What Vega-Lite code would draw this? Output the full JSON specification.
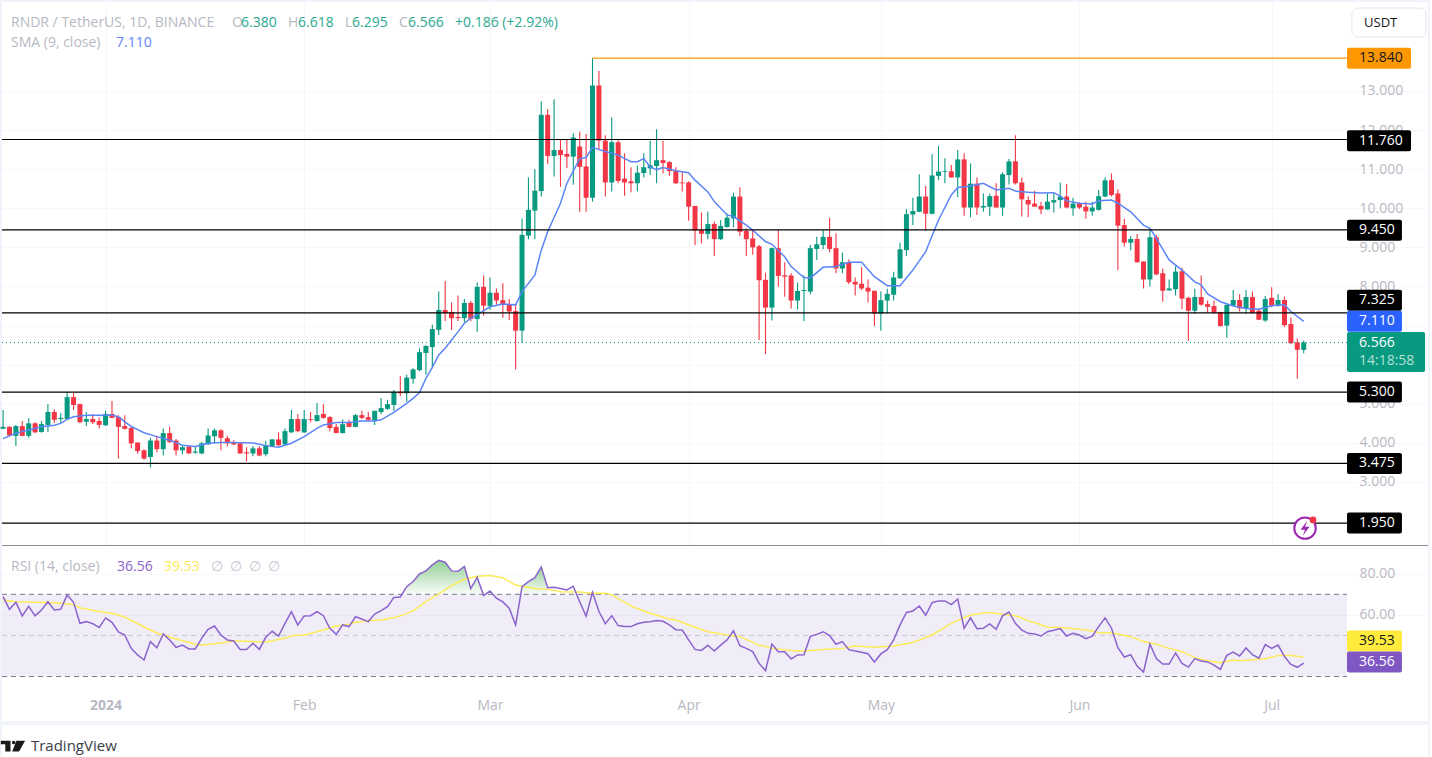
{"$schema":"https://vega.github.io/schema/vega-lite/v6.json","background":"#f0f3fa","padding":{"left":0,"top":2,"right":0,"bottom":0},"bounds":"flush","spacing":0,"config":{"view":{"fill":"white","stroke":null},"text":{"font":"Open Sans"}},
"datasets":{
"candles":[
{"t":"2023-12-16","o":4.36,"h":4.84,"l":4.36,"c":4.41,"r":68.9},{"t":"2023-12-17","o":4.41,"h":4.43,"l":4.16,"c":4.19,"r":62.7},{"t":"2023-12-18","o":4.18,"h":4.46,"l":3.92,"c":4.43,"r":66.1},{"t":"2023-12-19","o":4.43,"h":4.56,"l":4.17,"c":4.18,"r":59.5},{"t":"2023-12-20","o":4.18,"h":4.63,"l":4.13,"c":4.5,"r":64.2},{"t":"2023-12-21","o":4.5,"h":4.53,"l":4.25,"c":4.27,"r":59.5},{"t":"2023-12-22","o":4.28,"h":4.56,"l":4.26,"c":4.48,"r":62.4},{"t":"2023-12-23","o":4.46,"h":4.99,"l":4.28,"c":4.79,"r":66.4},{"t":"2023-12-24","o":4.79,"h":4.86,"l":4.51,"c":4.59,"r":62.4},{"t":"2023-12-25","o":4.61,"h":4.76,"l":4.52,"c":4.64,"r":62.7},{"t":"2023-12-26","o":4.61,"h":5.3,"l":4.59,"c":5.17,"r":69.7},{"t":"2023-12-27","o":5.17,"h":5.28,"l":4.84,"c":4.97,"r":66.1},{"t":"2023-12-28","o":4.99,"h":5.01,"l":4.5,"c":4.53,"r":55.9},{"t":"2023-12-29","o":4.54,"h":4.79,"l":4.43,"c":4.61,"r":56.7},{"t":"2023-12-30","o":4.61,"h":4.74,"l":4.48,"c":4.53,"r":55.7},{"t":"2023-12-31","o":4.56,"h":4.65,"l":4.37,"c":4.46,"r":53.9},
{"t":"2024-01-01","o":4.45,"h":4.82,"l":4.43,"c":4.74,"r":58.5},{"t":"2024-01-02","o":4.74,"h":5.07,"l":4.64,"c":4.64,"r":56.4},{"t":"2024-01-03","o":4.66,"h":4.71,"l":3.6,"c":4.41,"r":51.7},{"t":"2024-01-04","o":4.43,"h":4.71,"l":4.34,"c":4.36,"r":50.2},{"t":"2024-01-05","o":4.38,"h":4.43,"l":3.86,"c":3.99,"r":43.7},{"t":"2024-01-06","o":4.01,"h":4.01,"l":3.72,"c":3.79,"r":40.5},{"t":"2024-01-07","o":3.81,"h":3.84,"l":3.57,"c":3.6,"r":38},{"t":"2024-01-08","o":3.64,"h":4.13,"l":3.37,"c":4.06,"r":47},{"t":"2024-01-09","o":4.06,"h":4.18,"l":3.76,"c":3.84,"r":44},{"t":"2024-01-10","o":3.84,"h":4.37,"l":3.68,"c":4.25,"r":50.7},{"t":"2024-01-11","o":4.25,"h":4.41,"l":4,"c":4.02,"r":47.8},{"t":"2024-01-12","o":4.06,"h":4.1,"l":3.68,"c":3.81,"r":44.2},{"t":"2024-01-13","o":3.81,"h":3.92,"l":3.71,"c":3.89,"r":45.3},{"t":"2024-01-14","o":3.9,"h":3.92,"l":3.72,"c":3.73,"r":43.4},{"t":"2024-01-15","o":3.75,"h":3.92,"l":3.72,"c":3.78,"r":43.4},{"t":"2024-01-16","o":3.73,"h":4.02,"l":3.71,"c":3.99,"r":48.6},{"t":"2024-01-17","o":3.96,"h":4.37,"l":3.95,"c":4.19,"r":53},{"t":"2024-01-18","o":4.17,"h":4.37,"l":3.99,"c":4.32,"r":54.6},{"t":"2024-01-19","o":4.32,"h":4.35,"l":3.81,"c":4.13,"r":50.2},{"t":"2024-01-20","o":4.12,"h":4.18,"l":3.91,"c":3.99,"r":47.8},{"t":"2024-01-21","o":4.01,"h":4.07,"l":3.94,"c":3.96,"r":47.3},{"t":"2024-01-22","o":3.99,"h":3.99,"l":3.72,"c":3.73,"r":43.2},{"t":"2024-01-23","o":3.76,"h":3.89,"l":3.53,"c":3.73,"r":43.1},{"t":"2024-01-24","o":3.73,"h":3.92,"l":3.66,"c":3.86,"r":46.2},{"t":"2024-01-25","o":3.86,"h":3.92,"l":3.66,"c":3.68,"r":43.2},{"t":"2024-01-26","o":3.71,"h":4.05,"l":3.66,"c":3.94,"r":49.1},{"t":"2024-01-27","o":3.91,"h":4.09,"l":3.9,"c":4.09,"r":52},{"t":"2024-01-28","o":4.09,"h":4.27,"l":3.92,"c":3.94,"r":49.7},{"t":"2024-01-29","o":3.96,"h":4.37,"l":3.94,"c":4.3,"r":55.9},{"t":"2024-01-30","o":4.27,"h":4.84,"l":4.25,"c":4.61,"r":61.6},{"t":"2024-01-31","o":4.61,"h":4.74,"l":4.27,"c":4.3,"r":55.1},
{"t":"2024-02-01","o":4.27,"h":4.84,"l":4.25,"c":4.61,"r":59.5},{"t":"2024-02-02","o":4.61,"h":4.79,"l":4.53,"c":4.59,"r":59.6},{"t":"2024-02-03","o":4.56,"h":5.02,"l":4.54,"c":4.71,"r":61.6},{"t":"2024-02-04","o":4.74,"h":4.99,"l":4.62,"c":4.64,"r":59.6},{"t":"2024-02-05","o":4.66,"h":4.69,"l":4.3,"c":4.38,"r":53.5},{"t":"2024-02-06","o":4.41,"h":4.48,"l":4.25,"c":4.25,"r":50.5},{"t":"2024-02-07","o":4.25,"h":4.6,"l":4.24,"c":4.48,"r":55.1},{"t":"2024-02-08","o":4.51,"h":4.59,"l":4.4,"c":4.41,"r":54.3},{"t":"2024-02-09","o":4.41,"h":4.74,"l":4.4,"c":4.71,"r":59.1},{"t":"2024-02-10","o":4.71,"h":4.82,"l":4.61,"c":4.64,"r":58},{"t":"2024-02-11","o":4.66,"h":4.79,"l":4.56,"c":4.59,"r":56.7},{"t":"2024-02-12","o":4.57,"h":4.82,"l":4.46,"c":4.82,"r":60.4},{"t":"2024-02-13","o":4.79,"h":5.15,"l":4.74,"c":4.89,"r":62.1},{"t":"2024-02-14","o":4.87,"h":5.1,"l":4.84,"c":4.99,"r":64},{"t":"2024-02-15","o":4.97,"h":5.35,"l":4.82,"c":5.3,"r":68.5},{"t":"2024-02-16","o":5.3,"h":5.71,"l":5.2,"c":5.27,"r":68.7},{"t":"2024-02-17","o":5.27,"h":5.74,"l":5.05,"c":5.67,"r":73.7},{"t":"2024-02-18","o":5.64,"h":5.91,"l":5.51,"c":5.88,"r":76.2},{"t":"2024-02-19","o":5.86,"h":6.42,"l":5.83,"c":6.32,"r":79.9},{"t":"2024-02-20","o":6.3,"h":6.5,"l":5.74,"c":6.48,"r":81.4},{"t":"2024-02-21","o":6.45,"h":7.02,"l":5.91,"c":6.91,"r":84.3},{"t":"2024-02-22","o":6.89,"h":7.87,"l":6.76,"c":7.4,"r":86.5},{"t":"2024-02-23","o":7.4,"h":8.14,"l":7.12,"c":7.32,"r":85.6},{"t":"2024-02-24","o":7.35,"h":7.59,"l":6.89,"c":7.19,"r":81.4},{"t":"2024-02-25","o":7.22,"h":7.77,"l":7.12,"c":7.19,"r":81.2},{"t":"2024-02-26","o":7.19,"h":7.68,"l":7.09,"c":7.58,"r":83.5},{"t":"2024-02-27","o":7.58,"h":7.63,"l":7.11,"c":7.17,"r":72.8},{"t":"2024-02-28","o":7.17,"h":8.1,"l":6.84,"c":7.99,"r":78.3},{"t":"2024-02-29","o":7.99,"h":8.28,"l":7.25,"c":7.51,"r":69.4},
{"t":"2024-03-01","o":7.5,"h":8.23,"l":7.4,"c":7.84,"r":71.6},{"t":"2024-03-02","o":7.84,"h":7.95,"l":7.53,"c":7.64,"r":68.1},{"t":"2024-03-03","o":7.65,"h":8.08,"l":7.2,"c":7.53,"r":66.3},{"t":"2024-03-04","o":7.55,"h":7.68,"l":7.14,"c":7.36,"r":63.2},{"t":"2024-03-05","o":7.37,"h":7.53,"l":5.88,"c":6.87,"r":55.1},{"t":"2024-03-06","o":6.87,"h":9.74,"l":6.57,"c":9.32,"r":73.7},{"t":"2024-03-07","o":9.3,"h":10.79,"l":9.21,"c":9.96,"r":76.2},{"t":"2024-03-08","o":9.94,"h":11,"l":9.21,"c":10.45,"r":78.1},{"t":"2024-03-09","o":10.44,"h":12.73,"l":10.3,"c":12.39,"r":83.3},{"t":"2024-03-10","o":12.39,"h":12.53,"l":11.13,"c":11.34,"r":73.2},{"t":"2024-03-11","o":11.34,"h":12.79,"l":10.81,"c":11.49,"r":73.4},{"t":"2024-03-12","o":11.49,"h":11.75,"l":10.55,"c":11.36,"r":72.8},{"t":"2024-03-13","o":11.39,"h":11.76,"l":11.03,"c":11.32,"r":72.1},{"t":"2024-03-14","o":11.32,"h":11.92,"l":10.6,"c":11.81,"r":73.9},{"t":"2024-03-15","o":11.58,"h":11.96,"l":9.91,"c":11.06,"r":66.4},{"t":"2024-03-16","o":11.07,"h":11.9,"l":9.91,"c":10.27,"r":59.3},{"t":"2024-03-17","o":10.27,"h":13.84,"l":10.17,"c":13.14,"r":71},{"t":"2024-03-18","o":13.14,"h":13.51,"l":11.5,"c":11.73,"r":61.6},{"t":"2024-03-19","o":11.73,"h":11.87,"l":10.3,"c":10.66,"r":55.7},{"t":"2024-03-20","o":10.66,"h":12.32,"l":10.43,"c":11.69,"r":59.6},{"t":"2024-03-21","o":11.69,"h":11.75,"l":10.64,"c":10.7,"r":54.8},{"t":"2024-03-22","o":10.76,"h":11.41,"l":10.32,"c":10.66,"r":54.4},{"t":"2024-03-23","o":10.69,"h":11.05,"l":10.41,"c":10.64,"r":54.3},{"t":"2024-03-24","o":10.64,"h":11.09,"l":10.43,"c":10.91,"r":55.7},{"t":"2024-03-25","o":10.9,"h":11.41,"l":10.79,"c":11.05,"r":56.4},{"t":"2024-03-26","o":11.02,"h":11.73,"l":10.85,"c":11.1,"r":56.7},{"t":"2024-03-27","o":11.08,"h":12.02,"l":10.64,"c":11.23,"r":57.2},{"t":"2024-03-28","o":11.23,"h":11.73,"l":10.89,"c":11.16,"r":56.9},{"t":"2024-03-29","o":11.18,"h":11.21,"l":10.83,"c":10.95,"r":55.1},{"t":"2024-03-30","o":10.95,"h":11.05,"l":10.62,"c":10.64,"r":52.8},{"t":"2024-03-31","o":10.66,"h":10.92,"l":10.43,"c":10.64,"r":52.6},
{"t":"2024-04-01","o":10.66,"h":10.69,"l":9.68,"c":10.04,"r":47.8},{"t":"2024-04-02","o":10.06,"h":10.06,"l":9.06,"c":9.43,"r":43.2},{"t":"2024-04-03","o":9.44,"h":9.89,"l":9.1,"c":9.35,"r":42.7},{"t":"2024-04-04","o":9.34,"h":9.91,"l":9.21,"c":9.6,"r":45.2},{"t":"2024-04-05","o":9.6,"h":9.66,"l":8.78,"c":9.21,"r":42.4},{"t":"2024-04-06","o":9.21,"h":9.7,"l":9.19,"c":9.55,"r":45.3},{"t":"2024-04-07","o":9.52,"h":9.87,"l":9.51,"c":9.76,"r":47.8},{"t":"2024-04-08","o":9.74,"h":10.4,"l":9.51,"c":10.3,"r":52.3},{"t":"2024-04-09","o":10.3,"h":10.54,"l":9.29,"c":9.4,"r":45},{"t":"2024-04-10","o":9.42,"h":9.49,"l":8.78,"c":9.21,"r":43.7},{"t":"2024-04-11","o":9.23,"h":9.44,"l":8.81,"c":9,"r":42.1},{"t":"2024-04-12","o":9.03,"h":9.06,"l":6.63,"c":8.16,"r":36.4},{"t":"2024-04-13","o":8.17,"h":8.35,"l":6.27,"c":7.46,"r":32.9},{"t":"2024-04-14","o":7.46,"h":8.99,"l":7.13,"c":8.98,"r":45.8},{"t":"2024-04-15","o":8.98,"h":9.46,"l":8,"c":8.27,"r":42.1},{"t":"2024-04-16","o":8.285,"h":8.62,"l":7.74,"c":8.25,"r":42.1},{"t":"2024-04-17","o":8.28,"h":8.34,"l":7.44,"c":7.64,"r":38.5},{"t":"2024-04-18","o":7.64,"h":8.1,"l":7.42,"c":7.885,"r":40.5},{"t":"2024-04-19","o":7.885,"h":8.29,"l":7.12,"c":7.91,"r":40.6},{"t":"2024-04-20","o":7.87,"h":9.06,"l":7.8,"c":8.98,"r":49.6},{"t":"2024-04-21","o":8.96,"h":9.27,"l":8.68,"c":9.08,"r":50.5},{"t":"2024-04-22","o":9.06,"h":9.44,"l":8.95,"c":9.27,"r":51.8},{"t":"2024-04-23","o":9.27,"h":9.76,"l":8.87,"c":8.96,"r":49.9},{"t":"2024-04-24","o":8.98,"h":9.36,"l":8.34,"c":8.46,"r":45.7},{"t":"2024-04-25","o":8.46,"h":8.87,"l":8.34,"c":8.62,"r":47},{"t":"2024-04-26","o":8.62,"h":8.69,"l":8.06,"c":8.11,"r":43.1},{"t":"2024-04-27","o":8.12,"h":8.23,"l":7.77,"c":8.05,"r":42.4},{"t":"2024-04-28","o":8.07,"h":8.49,"l":7.91,"c":7.95,"r":41.8},{"t":"2024-04-29","o":7.97,"h":8.18,"l":7.59,"c":7.87,"r":41.1},{"t":"2024-04-30","o":7.89,"h":7.89,"l":6.99,"c":7.31,"r":37.1},
{"t":"2024-05-01","o":7.31,"h":7.87,"l":6.87,"c":7.65,"r":41},{"t":"2024-05-02","o":7.64,"h":7.94,"l":7.31,"c":7.81,"r":43.1},{"t":"2024-05-03","o":7.79,"h":8.38,"l":7.64,"c":8.23,"r":47.8},{"t":"2024-05-04","o":8.21,"h":9.12,"l":8.2,"c":8.95,"r":55.1},{"t":"2024-05-05","o":8.93,"h":9.98,"l":8.78,"c":9.85,"r":61.2},{"t":"2024-05-06","o":9.84,"h":10.27,"l":9.57,"c":9.93,"r":61.9},{"t":"2024-05-07","o":9.91,"h":10.87,"l":9.9,"c":10.3,"r":64.3},{"t":"2024-05-08","o":10.3,"h":10.57,"l":9.43,"c":9.86,"r":59.8},{"t":"2024-05-09","o":9.86,"h":11.38,"l":9.85,"c":10.84,"r":65.9},{"t":"2024-05-10","o":10.83,"h":11.59,"l":10.72,"c":10.94,"r":66.8},{"t":"2024-05-11","o":10.93,"h":11.28,"l":10.64,"c":10.95,"r":66.8},{"t":"2024-05-12","o":10.945,"h":11.11,"l":10.78,"c":10.79,"r":65},{"t":"2024-05-13","o":10.79,"h":11.49,"l":10.28,"c":11.25,"r":67.7},{"t":"2024-05-14","o":11.25,"h":11.41,"l":9.81,"c":10.02,"r":53.5},{"t":"2024-05-15","o":10.02,"h":11.15,"l":9.77,"c":10.63,"r":58.6},{"t":"2024-05-16","o":10.63,"h":10.79,"l":9.83,"c":10.02,"r":53.3},{"t":"2024-05-17","o":10.02,"h":10.38,"l":9.91,"c":10.06,"r":53.5},{"t":"2024-05-18","o":10.04,"h":10.37,"l":9.81,"c":10.31,"r":55.6},{"t":"2024-05-19","o":10.32,"h":10.64,"l":10.02,"c":10.02,"r":53},{"t":"2024-05-20","o":10.02,"h":10.92,"l":9.81,"c":10.87,"r":59.5},{"t":"2024-05-21","o":10.85,"h":11.26,"l":10.61,"c":11.2,"r":61.4},{"t":"2024-05-22","o":11.2,"h":11.87,"l":10.61,"c":10.64,"r":55.9},{"t":"2024-05-23","o":10.66,"h":10.79,"l":9.79,"c":10.23,"r":52.6},{"t":"2024-05-24","o":10.21,"h":10.31,"l":9.77,"c":10.1,"r":51},{"t":"2024-05-25","o":10.12,"h":10.45,"l":10.04,"c":10.04,"r":50.7},{"t":"2024-05-26","o":10.06,"h":10.17,"l":9.85,"c":9.97,"r":49.7},{"t":"2024-05-27","o":9.97,"h":10.38,"l":9.96,"c":10.17,"r":51.8},{"t":"2024-05-28","o":10.15,"h":10.37,"l":9.89,"c":10.21,"r":52.5},{"t":"2024-05-29","o":10.21,"h":10.66,"l":10,"c":10.3,"r":53.3},{"t":"2024-05-30","o":10.3,"h":10.62,"l":10,"c":10.02,"r":49.7},{"t":"2024-05-31","o":10,"h":10.27,"l":9.81,"c":10.12,"r":51},
{"t":"2024-06-01","o":10.12,"h":10.15,"l":9.98,"c":10.02,"r":50.2},{"t":"2024-06-02","o":10.04,"h":10.17,"l":9.73,"c":9.92,"r":48.4},{"t":"2024-06-03","o":9.92,"h":10.17,"l":9.81,"c":10.02,"r":49.6},{"t":"2024-06-04","o":9.96,"h":10.47,"l":9.94,"c":10.31,"r":54.3},{"t":"2024-06-05","o":10.3,"h":10.79,"l":10.28,"c":10.715,"r":58.6},{"t":"2024-06-06","o":10.72,"h":10.89,"l":10.3,"c":10.34,"r":53.5},{"t":"2024-06-07","o":10.38,"h":10.485,"l":8.42,"c":9.556,"r":44},{"t":"2024-06-08","o":9.57,"h":9.73,"l":9.02,"c":9.12,"r":39.5},{"t":"2024-06-09","o":9.12,"h":9.29,"l":8.93,"c":9.215,"r":40.6},{"t":"2024-06-10","o":9.215,"h":9.34,"l":8.61,"c":8.62,"r":35.1},{"t":"2024-06-11","o":8.64,"h":8.64,"l":7.95,"c":8.18,"r":32.2},{"t":"2024-06-12","o":8.18,"h":9.49,"l":8,"c":9.26,"r":45.8},{"t":"2024-06-13","o":9.26,"h":9.32,"l":8.29,"c":8.31,"r":38.7},{"t":"2024-06-14","o":8.34,"h":8.46,"l":7.61,"c":7.89,"r":36.1},{"t":"2024-06-15","o":7.9,"h":8.18,"l":7.89,"c":7.95,"r":36.1},{"t":"2024-06-16","o":7.93,"h":8.52,"l":7.77,"c":8.38,"r":41.5},{"t":"2024-06-17","o":8.39,"h":8.48,"l":7.42,"c":7.69,"r":36.4},{"t":"2024-06-18","o":7.71,"h":7.74,"l":6.61,"c":7.38,"r":34.6},{"t":"2024-06-19","o":7.38,"h":7.94,"l":7.3,"c":7.73,"r":38.7},{"t":"2024-06-20","o":7.73,"h":8.28,"l":7.51,"c":7.535,"r":37.6},{"t":"2024-06-21","o":7.55,"h":7.64,"l":7.33,"c":7.48,"r":37.1},{"t":"2024-06-22","o":7.5,"h":7.64,"l":7.31,"c":7.33,"r":35.6},{"t":"2024-06-23","o":7.35,"h":7.35,"l":6.97,"c":6.99,"r":33.5},{"t":"2024-06-24","o":7,"h":7.57,"l":6.69,"c":7.53,"r":40.3},{"t":"2024-06-25","o":7.51,"h":7.91,"l":7.5,"c":7.655,"r":41.9},{"t":"2024-06-26","o":7.655,"h":7.8,"l":7.36,"c":7.44,"r":40},{"t":"2024-06-27","o":7.44,"h":7.91,"l":7.3,"c":7.73,"r":43.9},{"t":"2024-06-28","o":7.73,"h":7.87,"l":7.31,"c":7.33,"r":40.6},{"t":"2024-06-29","o":7.38,"h":7.44,"l":7.14,"c":7.15,"r":38.9},{"t":"2024-06-30","o":7.13,"h":7.76,"l":7.1,"c":7.68,"r":45.5},
{"t":"2024-07-01","o":7.71,"h":7.98,"l":7.47,"c":7.51,"r":43.7},{"t":"2024-07-02","o":7.51,"h":7.8,"l":7.48,"c":7.655,"r":45.3},{"t":"2024-07-03","o":7.655,"h":7.74,"l":6.97,"c":7.01,"r":39.7},{"t":"2024-07-04","o":7.04,"h":7.21,"l":6.53,"c":6.55,"r":35.9},{"t":"2024-07-05","o":6.57,"h":6.67,"l":5.65,"c":6.38,"r":34.5},{"t":"2024-07-06","o":6.38,"h":6.618,"l":6.295,"c":6.566,"r":36.56}],
"sma":[{"t":"2023-12-16","v":4.11},{"t":"2023-12-18","v":4.25},{"t":"2023-12-20","v":4.33},{"t":"2023-12-22","v":4.41},{"t":"2023-12-24","v":4.45},{"t":"2023-12-25","v":4.5},{"t":"2023-12-26","v":4.6},{"t":"2023-12-27","v":4.67},{"t":"2023-12-29","v":4.71},{"t":"2023-12-31","v":4.71},{"t":"2024-01-02","v":4.71},{"t":"2024-01-03","v":4.67},{"t":"2024-01-04","v":4.54},{"t":"2024-01-05","v":4.42},{"t":"2024-01-07","v":4.26},{"t":"2024-01-09","v":4.16},{"t":"2024-01-11","v":4.07},{"t":"2024-01-13","v":3.94},{"t":"2024-01-15","v":3.91},{"t":"2024-01-17","v":3.99},{"t":"2024-01-19","v":4.01},{"t":"2024-01-21","v":4.01},{"t":"2024-01-24","v":4},{"t":"2024-01-26","v":3.93},{"t":"2024-01-28","v":3.89},{"t":"2024-01-30","v":3.99},{"t":"2024-02-01","v":4.16},{"t":"2024-02-03","v":4.37},{"t":"2024-02-04","v":4.46},{"t":"2024-02-06","v":4.52},{"t":"2024-02-08","v":4.52},{"t":"2024-02-10","v":4.56},{"t":"2024-02-12","v":4.56},{"t":"2024-02-13","v":4.59},{"t":"2024-02-15","v":4.78},{"t":"2024-02-17","v":5.01},{"t":"2024-02-18","v":5.14},{"t":"2024-02-19","v":5.29},{"t":"2024-02-20","v":5.65},{"t":"2024-02-21","v":5.93},{"t":"2024-02-22","v":6.25},{"t":"2024-02-23","v":6.42},{"t":"2024-02-24","v":6.63},{"t":"2024-02-25","v":6.84},{"t":"2024-02-26","v":7.06},{"t":"2024-02-27","v":7.19},{"t":"2024-02-28","v":7.28},{"t":"2024-03-01","v":7.48},{"t":"2024-03-03","v":7.55},{"t":"2024-03-05","v":7.53},{"t":"2024-03-06","v":7.87},{"t":"2024-03-08","v":8.29},{"t":"2024-03-09","v":8.93},{"t":"2024-03-10","v":9.4},{"t":"2024-03-12","v":10.13},{"t":"2024-03-13","v":10.64},{"t":"2024-03-15","v":11.27},{"t":"2024-03-16","v":11.3},{"t":"2024-03-17","v":11.56},{"t":"2024-03-19","v":11.45},{"t":"2024-03-21","v":11.36},{"t":"2024-03-23","v":11.19},{"t":"2024-03-24","v":11.19},{"t":"2024-03-25","v":11.27},{"t":"2024-03-26","v":11.06},{"t":"2024-03-27","v":10.99},{"t":"2024-03-28","v":11.04},{"t":"2024-03-30","v":10.96},{"t":"2024-04-01","v":10.91},{"t":"2024-04-02","v":10.72},{"t":"2024-04-04","v":10.42},{"t":"2024-04-05","v":10.17},{"t":"2024-04-07","v":9.83},{"t":"2024-04-08","v":9.79},{"t":"2024-04-10","v":9.57},{"t":"2024-04-11","v":9.44},{"t":"2024-04-13","v":9.15},{"t":"2024-04-14","v":9.08},{"t":"2024-04-16","v":8.76},{"t":"2024-04-17","v":8.51},{"t":"2024-04-19","v":8.23},{"t":"2024-04-20","v":8.22},{"t":"2024-04-22","v":8.49},{"t":"2024-04-24","v":8.51},{"t":"2024-04-26","v":8.62},{"t":"2024-04-28","v":8.62},{"t":"2024-04-30","v":8.25},{"t":"2024-05-02","v":8.02},{"t":"2024-05-04","v":8.02},{"t":"2024-05-06","v":8.42},{"t":"2024-05-08","v":8.89},{"t":"2024-05-10","v":9.7},{"t":"2024-05-12","v":10.34},{"t":"2024-05-13","v":10.53},{"t":"2024-05-15","v":10.57},{"t":"2024-05-17","v":10.64},{"t":"2024-05-19","v":10.47},{"t":"2024-05-21","v":10.51},{"t":"2024-05-22","v":10.44},{"t":"2024-05-24","v":10.41},{"t":"2024-05-26","v":10.39},{"t":"2024-05-28","v":10.4},{"t":"2024-05-29","v":10.31},{"t":"2024-05-30","v":10.19},{"t":"2024-06-01","v":10.13},{"t":"2024-06-03","v":10.11},{"t":"2024-06-04","v":10.19},{"t":"2024-06-06","v":10.21},{"t":"2024-06-07","v":10.13},{"t":"2024-06-09","v":9.91},{"t":"2024-06-11","v":9.57},{"t":"2024-06-12","v":9.49},{"t":"2024-06-13","v":9.23},{"t":"2024-06-15","v":8.68},{"t":"2024-06-17","v":8.42},{"t":"2024-06-19","v":8.12},{"t":"2024-06-20","v":8.04},{"t":"2024-06-21","v":7.81},{"t":"2024-06-23","v":7.61},{"t":"2024-06-25","v":7.5},{"t":"2024-06-27","v":7.44},{"t":"2024-06-29","v":7.42},{"t":"2024-07-01","v":7.51},{"t":"2024-07-03","v":7.53},{"t":"2024-07-04","v":7.36},{"t":"2024-07-06","v":7.11}],
"rsima":[{"t":"2023-12-16","v":67.2},{"t":"2023-12-18","v":66.4},{"t":"2023-12-21","v":66.1},{"t":"2023-12-24","v":65.9},{"t":"2023-12-27","v":65.1},{"t":"2023-12-28","v":63.5},{"t":"2023-12-31","v":61.6},{"t":"2024-01-02","v":60.8},{"t":"2024-01-04","v":59},{"t":"2024-01-07","v":54.1},{"t":"2024-01-09","v":51.2},{"t":"2024-01-12","v":48.3},{"t":"2024-01-15","v":45.7},{"t":"2024-01-16","v":45.3},{"t":"2024-01-19","v":46.3},{"t":"2024-01-21","v":47.3},{"t":"2024-01-24","v":47},{"t":"2024-01-26","v":46.8},{"t":"2024-01-29","v":48.6},{"t":"2024-01-30","v":49.9},{"t":"2024-02-01","v":50.2},{"t":"2024-02-04","v":52.6},{"t":"2024-02-06","v":54.6},{"t":"2024-02-08","v":55.4},{"t":"2024-02-09","v":56.4},{"t":"2024-02-11","v":57.2},{"t":"2024-02-13","v":57.5},{"t":"2024-02-15","v":58.6},{"t":"2024-02-17","v":60.6},{"t":"2024-02-18","v":61.9},{"t":"2024-02-20","v":66.4},{"t":"2024-02-22","v":70.2},{"t":"2024-02-24","v":74.2},{"t":"2024-02-26","v":77.3},{"t":"2024-02-28","v":78.8},{"t":"2024-03-01","v":79.1},{"t":"2024-03-03","v":78.1},{"t":"2024-03-05","v":74.5},{"t":"2024-03-06","v":73.9},{"t":"2024-03-08","v":72.8},{"t":"2024-03-10","v":72.4},{"t":"2024-03-12","v":71.3},{"t":"2024-03-15","v":71.1},{"t":"2024-03-17","v":70.5},{"t":"2024-03-19","v":70.5},{"t":"2024-03-20","v":69.7},{"t":"2024-03-23","v":64.3},{"t":"2024-03-26","v":60.8},{"t":"2024-03-29","v":58},{"t":"2024-03-30","v":57.5},{"t":"2024-04-01","v":55.1},{"t":"2024-04-04","v":51.8},{"t":"2024-04-07","v":50.2},{"t":"2024-04-09","v":49.4},{"t":"2024-04-12","v":45.3},{"t":"2024-04-14","v":43.7},{"t":"2024-04-17","v":42.7},{"t":"2024-04-19","v":42.4},{"t":"2024-04-22","v":43.1},{"t":"2024-04-25","v":43.7},{"t":"2024-04-27","v":44.9},{"t":"2024-04-30","v":44.2},{"t":"2024-05-03","v":44.9},{"t":"2024-05-06","v":46.6},{"t":"2024-05-09","v":50.2},{"t":"2024-05-12","v":55.9},{"t":"2024-05-14","v":58.6},{"t":"2024-05-15","v":59.9},{"t":"2024-05-17","v":60.9},{"t":"2024-05-18","v":61.1},{"t":"2024-05-20","v":60.3},{"t":"2024-05-22","v":59.6},{"t":"2024-05-24","v":57.2},{"t":"2024-05-27","v":54.1},{"t":"2024-05-29","v":53.9},{"t":"2024-06-01","v":53},{"t":"2024-06-03","v":52.2},{"t":"2024-06-04","v":51.3},{"t":"2024-06-06","v":51.3},{"t":"2024-06-09","v":49.4},{"t":"2024-06-11","v":47},{"t":"2024-06-13","v":45.7},{"t":"2024-06-15","v":43.7},{"t":"2024-06-17","v":42.1},{"t":"2024-06-19","v":39.2},{"t":"2024-06-21","v":37.7},{"t":"2024-06-23","v":36.7},{"t":"2024-06-25","v":38},{"t":"2024-06-26","v":37.7},{"t":"2024-06-28","v":38.2},{"t":"2024-06-30","v":38.7},{"t":"2024-07-02","v":40.2},{"t":"2024-07-04","v":40.2},{"t":"2024-07-06","v":39.53}],
"ob":[{"t":"2024-02-16","r":70,"seg":"a"},{"t":"2024-02-17","r":73.7,"seg":"a"},{"t":"2024-02-18","r":76.2,"seg":"a"},{"t":"2024-02-19","r":79.9,"seg":"a"},{"t":"2024-02-20","r":81.4,"seg":"a"},{"t":"2024-02-21","r":84.3,"seg":"a"},{"t":"2024-02-22","r":86.5,"seg":"a"},{"t":"2024-02-23","r":85.6,"seg":"a"},{"t":"2024-02-24","r":81.4,"seg":"a"},{"t":"2024-02-25","r":81.2,"seg":"a"},{"t":"2024-02-26","r":83.5,"seg":"a"},{"t":"2024-02-27","r":72.8,"seg":"a"},{"t":"2024-02-28","r":78.3,"seg":"a"},{"t":"2024-02-29","r":70,"seg":"a"},{"t":"2024-03-06","r":73.7,"seg":"b"},{"t":"2024-03-07","r":76.2,"seg":"b"},{"t":"2024-03-08","r":78.1,"seg":"b"},{"t":"2024-03-09","r":83.3,"seg":"b"},{"t":"2024-03-10","r":73.2,"seg":"b"}],
"levels":[{"level":11.76,"at":11.73,"label":"11.760"},{"level":9.45,"at":9.44,"label":"9.450"},{"level":7.325,"at":7.65,"label":"7.325"},{"level":5.3,"at":5.3,"label":"5.300"},{"level":3.475,"at":3.475,"label":"3.475"},{"level":1.95,"at":1.95,"label":"1.950"}]
},
"vconcat":[
{"width":1426,"height":544,"layer":[
{"data":{"name":"candles"},"mark":{"type":"rule","strokeWidth":1.1},"encoding":{"x":{"field":"t","type":"temporal","scale":{"padding":0,"domain":[{"year":2023,"month":12,"date":15,"hours":20,"utc":true},{"year":2024,"month":7,"date":25,"hours":9,"minutes":36,"utc":true}]},"axis":{"values":[{"year":2024,"month":1,"date":1,"utc":true},{"year":2024,"month":2,"date":1,"utc":true},{"year":2024,"month":3,"date":1,"utc":true},{"year":2024,"month":4,"date":1,"utc":true},{"year":2024,"month":5,"date":1,"utc":true},{"year":2024,"month":6,"date":1,"utc":true},{"year":2024,"month":7,"date":1,"utc":true}],"labels":false,"ticks":false,"domain":false,"title":null,"gridColor":"#f6f7fa"}},"y":{"field":"l","type":"quantitative","scale":{"padding":0,"domain":[1.363,15.276],"zero":false,"nice":false},"axis":{"orient":"right","offset":-86,"values":[3,4,5,6,7,8,9,10,11,12,13],"format":".3f","labelAlign":"left","labelPadding":17,"ticks":false,"domain":false,"title":null,"gridColor":"#f6f7fa","labelColor":"#b6b9c2","labelFont":"Open Sans","labelFontSize":14}},"y2":{"field":"h"},"color":{"condition":{"test":"datum.c>=datum.o","value":"#089981"},"value":"#f23645"}}},
{"data":{"name":"candles"},"mark":{"type":"bar","size":5},"encoding":{"x":{"field":"t","type":"temporal"},"y":{"field":"o","type":"quantitative"},"y2":{"field":"c"},"color":{"condition":{"test":"datum.c>=datum.o","value":"#089981"},"value":"#f23645"}}},
{"data":{"name":"sma"},"mark":{"type":"line","color":"#5b85f7","strokeWidth":1.5},"encoding":{"x":{"field":"t","type":"temporal"},"y":{"field":"v","type":"quantitative"}}},
{"data":{"name":"levels"},"mark":{"type":"rule","color":"#000000","strokeWidth":1.2},"encoding":{"x":{"datum":{"year":2023,"month":12,"date":15,"hours":20,"utc":true},"type":"temporal"},"x2":{"datum":{"year":2024,"month":7,"date":12,"hours":18,"minutes":14,"utc":true}},"y":{"field":"level","type":"quantitative"}}},
{"data":{"values":[{"level":13.84}]},"mark":{"type":"rule","color":"#ff9800","strokeWidth":1.2},"encoding":{"x":{"datum":{"year":2024,"month":3,"date":17,"utc":true},"type":"temporal"},"x2":{"datum":{"year":2024,"month":7,"date":12,"hours":18,"minutes":14,"utc":true}},"y":{"field":"level","type":"quantitative"}}},
{"data":{"values":[{"level":6.566}]},"mark":{"type":"rule","color":"#089981","strokeWidth":1,"strokeDash":[1,3]},"encoding":{"x":{"datum":{"year":2023,"month":12,"date":15,"hours":20,"utc":true},"type":"temporal"},"x2":{"datum":{"year":2024,"month":7,"date":12,"hours":18,"minutes":14,"utc":true}},"y":{"field":"level","type":"quantitative"}}},
{"data":{"name":"levels"},"transform":[{"filter":"length(datum.label)==6"}],"mark":{"type":"bar","orient":"horizontal","size":21,"color":"#000000","cornerRadius":2},"encoding":{"x":{"datum":{"year":2024,"month":7,"date":12,"hours":18,"minutes":14,"utc":true},"type":"temporal"},"x2":{"datum":{"year":2024,"month":7,"date":22,"hours":18,"utc":true}},"y":{"field":"at","type":"quantitative"}}},
{"data":{"name":"levels"},"transform":[{"filter":"length(datum.label)==5"}],"mark":{"type":"bar","orient":"horizontal","size":21,"color":"#000000","cornerRadius":2},"encoding":{"x":{"datum":{"year":2024,"month":7,"date":12,"hours":18,"minutes":14,"utc":true},"type":"temporal"},"x2":{"datum":{"year":2024,"month":7,"date":21,"hours":8,"utc":true}},"y":{"field":"at","type":"quantitative"}}},
{"data":{"values":[{"at":13.84}]},"mark":{"type":"bar","orient":"horizontal","size":21,"color":"#ff9800","cornerRadius":2},"encoding":{"x":{"datum":{"year":2024,"month":7,"date":12,"hours":18,"minutes":14,"utc":true},"type":"temporal"},"x2":{"datum":{"year":2024,"month":7,"date":22,"hours":18,"utc":true}},"y":{"field":"at","type":"quantitative"}}},
{"data":{"values":[{"at":7.11}]},"mark":{"type":"bar","orient":"horizontal","size":21,"color":"#2962ff","cornerRadius":2},"encoding":{"x":{"datum":{"year":2024,"month":7,"date":12,"hours":18,"minutes":14,"utc":true},"type":"temporal"},"x2":{"datum":{"year":2024,"month":7,"date":21,"hours":8,"utc":true}},"y":{"field":"at","type":"quantitative"}}},
{"data":{"values":[{"at":6.325}]},"mark":{"type":"bar","orient":"horizontal","size":40,"color":"#089981","cornerRadius":2},"encoding":{"x":{"datum":{"year":2024,"month":7,"date":12,"hours":18,"minutes":14,"utc":true},"type":"temporal"},"x2":{"datum":{"year":2024,"month":7,"date":24,"hours":22,"minutes":30,"utc":true}},"y":{"field":"at","type":"quantitative"}}},
{"data":{"name":"levels"},"mark":{"type":"text","align":"left","baseline":"middle","color":"#ffffff","fontSize":14},"encoding":{"x":{"datum":{"year":2024,"month":7,"date":14,"hours":15,"utc":true},"type":"temporal"},"y":{"field":"at","type":"quantitative"},"text":{"field":"label"}}},
{"data":{"values":[{"at":13.84,"label":"13.840","col":"#131722"},{"at":7.11,"label":"7.110","col":"#ffffff"},{"at":6.566,"label":"6.566","col":"#ffffff"},{"at":6.094,"label":"14:18:58","col":"#b5e0d6"}]},"mark":{"type":"text","align":"left","baseline":"middle","fontSize":14},"encoding":{"x":{"datum":{"year":2024,"month":7,"date":14,"hours":15,"utc":true},"type":"temporal"},"y":{"field":"at","type":"quantitative"},"text":{"field":"label"},"color":{"field":"col","type":"nominal","scale":null}}},
{"data":{"values":[{"a":1}]},"mark":{"type":"rect","fill":"#ffffff","stroke":"#e3e6ec","cornerRadius":6},"encoding":{"x":{"datum":{"year":2024,"month":7,"date":13,"hours":12,"minutes":43,"utc":true},"type":"temporal"},"x2":{"datum":{"year":2024,"month":7,"date":25,"hours":2,"utc":true}},"y":{"datum":15.12,"type":"quantitative"},"y2":{"datum":14.38}}},
{"data":{"values":[{"label":"USDT"}]},"mark":{"type":"text","align":"left","baseline":"middle","color":"#131722","fontSize":13},"encoding":{"x":{"datum":{"year":2024,"month":7,"date":15,"hours":10,"utc":true},"type":"temporal"},"y":{"datum":14.75,"type":"quantitative"},"text":{"field":"label"}}},
{"data":{"values":[{"a":1}]},"encoding":{"x":{"datum":{"year":2023,"month":12,"date":15,"hours":20,"utc":true},"type":"temporal"},"y":{"datum":14.75,"type":"quantitative"}},"layer":[
{"mark":{"type":"text","text":"RNDR / TetherUS, 1D, BINANCE","align":"left","baseline":"middle","fontSize":14,"color":"#b6b9c2","dx":9}},
{"mark":{"type":"text","text":"O","align":"left","baseline":"middle","fontSize":14,"color":"#b6b9c2","dx":230}},
{"mark":{"type":"text","text":"6.380","align":"left","baseline":"middle","fontSize":14,"color":"#2ba98f","dx":239}},
{"mark":{"type":"text","text":"H","align":"left","baseline":"middle","fontSize":14,"color":"#b6b9c2","dx":286}},
{"mark":{"type":"text","text":"6.618","align":"left","baseline":"middle","fontSize":14,"color":"#2ba98f","dx":296}},
{"mark":{"type":"text","text":"L","align":"left","baseline":"middle","fontSize":14,"color":"#b6b9c2","dx":343}},
{"mark":{"type":"text","text":"6.295","align":"left","baseline":"middle","fontSize":14,"color":"#2ba98f","dx":350}},
{"mark":{"type":"text","text":"C","align":"left","baseline":"middle","fontSize":14,"color":"#b6b9c2","dx":397}},
{"mark":{"type":"text","text":"6.566","align":"left","baseline":"middle","fontSize":14,"color":"#2ba98f","dx":406}},
{"mark":{"type":"text","text":"+0.186 (+2.92%)","align":"left","baseline":"middle","fontSize":14,"color":"#2ba98f","dx":453}}]},
{"data":{"values":[{"a":1}]},"encoding":{"x":{"datum":{"year":2023,"month":12,"date":15,"hours":20,"utc":true},"type":"temporal"},"y":{"datum":14.23,"type":"quantitative"}},"layer":[
{"mark":{"type":"text","text":"SMA (9, close)","align":"left","baseline":"middle","fontSize":14,"color":"#b6b9c2","dx":9}},
{"mark":{"type":"text","text":"7.110","align":"left","baseline":"middle","fontSize":14,"color":"#5b85f7","dx":114}}]},
{"data":{"values":[{"a":1}]},"encoding":{"x":{"datum":{"year":2024,"month":7,"date":6,"hours":5,"utc":true},"type":"temporal"},"y":{"datum":1.82,"type":"quantitative"}},"layer":[
{"mark":{"type":"point","shape":"circle","size":460,"filled":false,"fill":"#ffffff","stroke":"#9c27b0","strokeWidth":2,"opacity":1}},
{"mark":{"type":"point","shape":"M0.15,-0.5L-0.3,0.1L0,0.1L-0.15,0.5L0.3,-0.1L0,-0.1Z","size":900,"filled":true,"color":"#9c27b0","opacity":1}}]},
{"data":{"values":[{"a":1}]},"mark":{"type":"point","shape":"circle","size":45,"filled":true,"color":"#f23645","opacity":1},"encoding":{"x":{"datum":{"year":2024,"month":7,"date":7,"hours":11,"utc":true},"type":"temporal"},"y":{"datum":2.03,"type":"quantitative"}}},
{"data":{"values":[{"a":1}]},"mark":{"type":"rule","color":"#8c8c92","strokeWidth":2},"encoding":{"y":{"datum":1.363,"type":"quantitative"}}}
]},
{"width":1426,"height":177,"layer":[
{"data":{"values":[{"a":30,"b":70}]},"mark":{"type":"rect","color":"#7e57c2","opacity":0.11},"encoding":{"x":{"datum":{"year":2023,"month":12,"date":15,"hours":20,"utc":true},"type":"temporal","scale":{"padding":0,"domain":[{"year":2023,"month":12,"date":15,"hours":20,"utc":true},{"year":2024,"month":7,"date":25,"hours":9,"minutes":36,"utc":true}]},"axis":{"values":[{"year":2024,"month":1,"date":1,"utc":true},{"year":2024,"month":2,"date":1,"utc":true},{"year":2024,"month":3,"date":1,"utc":true},{"year":2024,"month":4,"date":1,"utc":true},{"year":2024,"month":5,"date":1,"utc":true},{"year":2024,"month":6,"date":1,"utc":true},{"year":2024,"month":7,"date":1,"utc":true}],"labelExpr":"utcmonth(datum.value)==0 ? '2024' : utcFormat(datum.value,'%b')","labelFontWeight":{"condition":{"test":"utcmonth(datum.value)==0","value":"bold"},"value":"normal"},"labelPadding":-25,"labelBaseline":"top","labelOverlap":false,"labelBound":false,"labelFlush":false,"ticks":false,"domain":false,"title":null,"gridColor":"#f6f7fa","labelColor":"#b6b9c2","labelFont":"Open Sans","labelFontSize":14}},"x2":{"datum":{"year":2024,"month":7,"date":12,"hours":18,"minutes":14,"utc":true}},"y":{"field":"a","type":"quantitative","scale":{"padding":0,"domain":[7.4,93.5],"zero":false,"nice":false},"axis":{"orient":"right","offset":-86,"values":[80,60],"format":".2f","labelAlign":"left","labelPadding":17,"ticks":false,"domain":false,"title":null,"gridColor":"#f6f7fa","labelColor":"#b6b9c2","labelFont":"Open Sans","labelFontSize":14}},"y2":{"field":"b"}}},
{"data":{"name":"ob"},"mark":{"type":"area","color":{"x1":0,"y1":0,"x2":0,"y2":1,"gradient":"linear","stops":[{"offset":0,"color":"rgba(76,175,80,0.6)"},{"offset":1,"color":"rgba(76,175,80,0.03)"}]}},"encoding":{"x":{"field":"t","type":"temporal"},"y":{"field":"r","type":"quantitative"},"y2":{"datum":70},"detail":{"field":"seg"}}},
{"data":{"values":[{"v":70},{"v":30}]},"mark":{"type":"rule","color":"#787b86","strokeWidth":1,"strokeDash":[5,4]},"encoding":{"x":{"datum":{"year":2023,"month":12,"date":15,"hours":20,"utc":true},"type":"temporal"},"x2":{"datum":{"year":2024,"month":7,"date":12,"hours":18,"minutes":14,"utc":true}},"y":{"field":"v","type":"quantitative"}}},
{"data":{"values":[{"v":50}]},"mark":{"type":"rule","color":"#c6c7ce","strokeWidth":1,"strokeDash":[5,4]},"encoding":{"x":{"datum":{"year":2023,"month":12,"date":15,"hours":20,"utc":true},"type":"temporal"},"x2":{"datum":{"year":2024,"month":7,"date":12,"hours":18,"minutes":14,"utc":true}},"y":{"field":"v","type":"quantitative"}}},
{"data":{"name":"rsima"},"mark":{"type":"line","color":"#fdeb57","strokeWidth":1.5},"encoding":{"x":{"field":"t","type":"temporal"},"y":{"field":"v","type":"quantitative"}}},
{"data":{"name":"candles"},"mark":{"type":"line","color":"#8a63cc","strokeWidth":1.5},"encoding":{"x":{"field":"t","type":"temporal"},"y":{"field":"r","type":"quantitative"}}},
{"data":{"values":[{"at":47.3}]},"mark":{"type":"bar","orient":"horizontal","size":21,"color":"#ffeb3b","cornerRadius":2},"encoding":{"x":{"datum":{"year":2024,"month":7,"date":12,"hours":18,"minutes":14,"utc":true},"type":"temporal"},"x2":{"datum":{"year":2024,"month":7,"date":21,"hours":8,"utc":true}},"y":{"field":"at","type":"quantitative"}}},
{"data":{"values":[{"at":37.1}]},"mark":{"type":"bar","orient":"horizontal","size":21,"color":"#7e57c2","cornerRadius":2},"encoding":{"x":{"datum":{"year":2024,"month":7,"date":12,"hours":18,"minutes":14,"utc":true},"type":"temporal"},"x2":{"datum":{"year":2024,"month":7,"date":21,"hours":8,"utc":true}},"y":{"field":"at","type":"quantitative"}}},
{"data":{"values":[{"at":47.3,"label":"39.53","col":"#131722"},{"at":37.1,"label":"36.56","col":"#ffffff"}]},"mark":{"type":"text","align":"left","baseline":"middle","fontSize":14},"encoding":{"x":{"datum":{"year":2024,"month":7,"date":14,"hours":15,"utc":true},"type":"temporal"},"y":{"field":"at","type":"quantitative"},"text":{"field":"label"},"color":{"field":"col","type":"nominal","scale":null}}},
{"data":{"values":[{"a":1}]},"encoding":{"x":{"datum":{"year":2023,"month":12,"date":15,"hours":20,"utc":true},"type":"temporal"},"y":{"datum":83.3,"type":"quantitative"}},"layer":[
{"mark":{"type":"text","text":"RSI (14, close)","align":"left","baseline":"middle","fontSize":14,"color":"#b6b9c2","dx":9}},
{"mark":{"type":"text","text":"36.56","align":"left","baseline":"middle","fontSize":14,"color":"#8a63cc","dx":115}},
{"mark":{"type":"text","text":"39.53","align":"left","baseline":"middle","fontSize":14,"color":"#fdeb57","dx":162}},
{"mark":{"type":"text","text":"∅","align":"left","baseline":"middle","fontSize":14,"color":"#c6c8d0","dx":209}},
{"mark":{"type":"text","text":"∅","align":"left","baseline":"middle","fontSize":14,"color":"#c6c8d0","dx":228}},
{"mark":{"type":"text","text":"∅","align":"left","baseline":"middle","fontSize":14,"color":"#c6c8d0","dx":247}},
{"mark":{"type":"text","text":"∅","align":"left","baseline":"middle","fontSize":14,"color":"#c6c8d0","dx":266}}]}
]},
{"width":1426,"height":34,"layer":[
{"data":{"values":[{"a":1}]},"mark":{"type":"rule","color":"#f0f3fa","strokeWidth":4},"encoding":{"x":{"datum":{"year":2023,"month":12,"date":15,"hours":20,"utc":true},"type":"temporal","scale":{"domain":[{"year":2023,"month":12,"date":15,"hours":20,"utc":true},{"year":2024,"month":7,"date":25,"hours":9,"minutes":36,"utc":true}]},"axis":null},"x2":{"datum":{"year":2024,"month":7,"date":25,"hours":9,"minutes":36,"utc":true}},"y":{"datum":1,"type":"quantitative","scale":{"domain":[0,1]},"axis":null}}},
{"data":{"values":[{"a":1}]},"mark":{"type":"point","shape":"M-0.5,-0.22H-0.1V0.22H-0.315V-0.082H-0.5ZM0.097,-0.15A0.07,0.07,0,1,1,-0.043,-0.15A0.07,0.07,0,1,1,0.097,-0.15ZM0.14,-0.22H0.5L0.25,0.22H-0.03Z","size":2368,"filled":true,"color":"#1a1a1a","opacity":1},"encoding":{"x":{"datum":{"year":2023,"month":12,"date":17,"hours":13,"utc":true},"type":"temporal"},"y":{"datum":0.32,"type":"quantitative"}}},
{"data":{"values":[{"label":"TradingView"}]},"mark":{"type":"text","align":"left","baseline":"middle","color":"#3a3d45","fontSize":15},"encoding":{"x":{"datum":{"year":2023,"month":12,"date":20,"hours":8,"minutes":30,"utc":true},"type":"temporal"},"y":{"datum":0.32,"type":"quantitative"},"text":{"field":"label"}}}
]}
]}
